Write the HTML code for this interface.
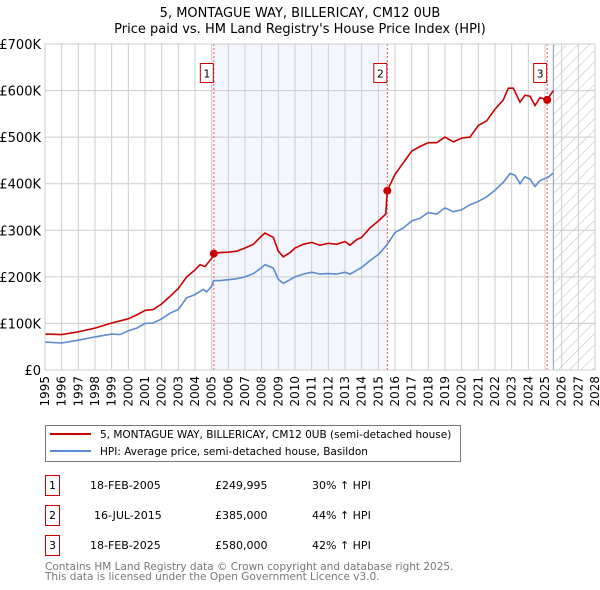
<!DOCTYPE html>
<html><head><meta charset="utf-8"><style>
body{margin:0;background:#fff;font-family:"DejaVu Sans","Liberation Sans",sans-serif;}
svg{display:block}
</style></head><body>
<svg id="chart" width="600" height="590" xmlns="http://www.w3.org/2000/svg">
<defs><pattern id="hatch" width="8" height="8" patternUnits="userSpaceOnUse" patternTransform="rotate(45)"><line x1="0" y1="0" x2="0" y2="8" stroke="#bbb" stroke-width="1"/></pattern></defs>
<text x="300" y="17" text-anchor="middle" font-size="13">5, MONTAGUE WAY, BILLERICAY, CM12 0UB</text>
<text x="300" y="33" text-anchor="middle" font-size="13">Price paid vs. HM Land Registry's House Price Index (HPI)</text>
<g id="plot"></g>
<g>
<rect x="45.5" y="425.5" width="415" height="36" fill="#fff" stroke="#777"/>
<line x1="50" y1="434" x2="91" y2="434" stroke="#cc0000" stroke-width="2"/>
<text x="100" y="438" font-size="10.5">5, MONTAGUE WAY, BILLERICAY, CM12 0UB (semi-detached house)</text>
<line x1="50" y1="451" x2="91" y2="451" stroke="#5b8bd0" stroke-width="2"/>
<text x="100" y="455" font-size="10.5">HPI: Average price, semi-detached house, Basildon</text>
</g>
<g font-size="11">
<rect x="45.5" y="475.5" width="14" height="20" fill="#fff" stroke="#cc0000"/><text x="52.5" y="489" text-anchor="middle">1</text>
<text x="90" y="489">18-FEB-2005</text><text x="215" y="489">£249,995</text><text x="312" y="489">30% ↑ HPI</text>
<rect x="45.5" y="505.5" width="14" height="20" fill="#fff" stroke="#cc0000"/><text x="52.5" y="519" text-anchor="middle">2</text>
<text x="94" y="519">16-JUL-2015</text><text x="215" y="519">£385,000</text><text x="312" y="519">44% ↑ HPI</text>
<rect x="45.5" y="535.5" width="14" height="20" fill="#fff" stroke="#cc0000"/><text x="52.5" y="549" text-anchor="middle">3</text>
<text x="90" y="549">18-FEB-2025</text><text x="215" y="549">£580,000</text><text x="312" y="549">42% ↑ HPI</text>
</g>
<text x="45" y="570" font-size="10.5" fill="#777">Contains HM Land Registry data © Crown copyright and database right 2025.</text>
<text x="45" y="580" font-size="10.5" fill="#777">This data is licensed under the Open Government Licence v3.0.</text>
</svg>
<script>
const hpiYears=[1995,1996,1997,1998,1999,1999.5,2000,2000.5,2001,2001.5,2002,2002.5,2003,2003.5,2004,2004.5,2004.7,2005,2005.12,2005.5,2006,2006.5,2007,2007.5,2008,2008.2,2008.7,2009,2009.3,2009.7,2010,2010.5,2011,2011.5,2012,2012.5,2013,2013.3,2013.7,2014,2014.5,2015,2015.5,2016,2016.5,2017,2017.5,2018,2018.5,2019,2019.5,2020,2020.5,2021,2021.5,2022,2022.5,2022.9,2023.2,2023.5,2023.8,2024.1,2024.4,2024.7,2025.2,2025.5];
const hpiValues=[60,58,64,71,77,76,84,90,100,101,110,122,130,155,162,173,168,180,192,192,194,196,200,207,220,226,219,195,186,194,200,206,210,206,207,206,210,206,214,220,235,248,268,295,305,320,326,338,335,348,340,344,355,362,372,386,403,422,418,400,415,410,394,407,414,423];
const redYears=[1995,1996,1997,1998,1999,2000,2000.5,2001,2001.5,2002,2002.5,2003,2003.5,2004,2004.3,2004.6,2005,2005.12,2005.5,2006,2006.5,2007,2007.5,2008,2008.2,2008.7,2009,2009.3,2009.7,2010,2010.5,2011,2011.5,2012,2012.5,2013,2013.3,2013.7,2014,2014.5,2015,2015.45,2015.54,2016,2016.5,2017,2017.5,2018,2018.5,2019,2019.5,2020,2020.5,2021,2021.5,2022,2022.5,2022.8,2023.1,2023.5,2023.8,2024.1,2024.4,2024.7,2025.12,2025.5];
const redValues=[77,76,82,90,101,110,118,128,130,142,158,175,200,215,226,222,240,250,252,253,255,262,270,288,294,285,255,243,252,262,270,274,268,272,270,276,268,280,285,305,320,335,385,420,445,470,480,488,488,500,490,498,500,525,535,560,580,605,605,575,590,588,568,585,580,600];
const saleYears=[2005.13,2015.54,2025.13];
const salePrices=[249995,385000,580000];
const saleLabels=["1","2","3"];
const yTicks=[0,100,200,300,400,500,600,700];
const yTickLabels=["£0","£100K","£200K","£300K","£400K","£500K","£600K","£700K"];
const xTicks=[];for(let y=1995;y<=2028;y++)xTicks.push(y);
const X0=45,X1=595,Y0=370,Y1=44;
const sx=y=>X0+(y-1995)/(2028-1995)*(X1-X0);
const sy=v=>Y0-v/700*(Y0-Y1);
const NS="http://www.w3.org/2000/svg";
const g=document.getElementById('plot');
function mk(t,a,p){const e=document.createElementNS(NS,t);for(const k in a)e.setAttribute(k,a[k]);(p||g).appendChild(e);return e;}
let e=mk('rect',{x:sx(saleYears[0]),y:Y1,width:sx(saleYears[1])-sx(saleYears[0]),height:Y0-Y1,fill:'#eef2fc',opacity:0.7});


e=mk('rect',{x:sx(2025.5),y:Y1,width:X1-sx(2025.5),height:Y0-Y1,fill:'url(#hatch)'});


xTicks.forEach(t=>{const l=mk('line',{x1:sx(t),x2:sx(t),y1:Y1,y2:Y0,stroke:'#ccc'});


const tx=mk('text',{x:0,y:0,'font-size':12,'text-anchor':'end',transform:`translate(${sx(t)+4},${Y0+6}) rotate(-90)`});tx.textContent=t;

});
yTicks.forEach((t,i)=>{const l=mk('line',{x1:X0,x2:X1,y1:sy(t),y2:sy(t),stroke:'#ccc'});


const tx=mk('text',{x:X0-4,y:sy(t)+5,'font-size':13,'text-anchor':'end'});tx.textContent=yTickLabels[i];

});
e=mk('line',{x1:sx(2025.5),x2:sx(2025.5),y1:Y1,y2:Y0,stroke:'#8899bb'});


saleYears.forEach((y,i)=>{const l=mk('line',{x1:sx(y),x2:sx(y),y1:Y1,y2:Y0,stroke:'#e55','stroke-dasharray':'2,2'});


const r=mk('rect',{x:sx(y)-13.5,y:63.5,width:13,height:19,fill:'#fff',stroke:'#cc0000'});


const t=mk('text',{x:sx(y)-7,y:77.5,'font-size':11,'text-anchor':'middle'});t.textContent=saleLabels[i];

});
const path=(xs,vs)=>xs.map((x,i)=>(i?'L':'M')+sx(x).toFixed(1)+','+sy(vs[i]).toFixed(1)).join('');
e=mk('path',{d:path(hpiYears,hpiValues),fill:'none',stroke:'#5b8bd0','stroke-width':1.6});


e=mk('path',{d:path(redYears,redValues),fill:'none',stroke:'#cc0000','stroke-width':1.6});


saleYears.forEach((y,i)=>{const c=mk('circle',{cx:sx(y),cy:sy(salePrices[i]/1000),r:4,fill:'#cc0000'});

});
e=mk('rect',{x:X0,y:Y1,width:X1-X0,height:Y0-Y1,fill:'none',stroke:'#ccc'});


</script>
</body></html>
